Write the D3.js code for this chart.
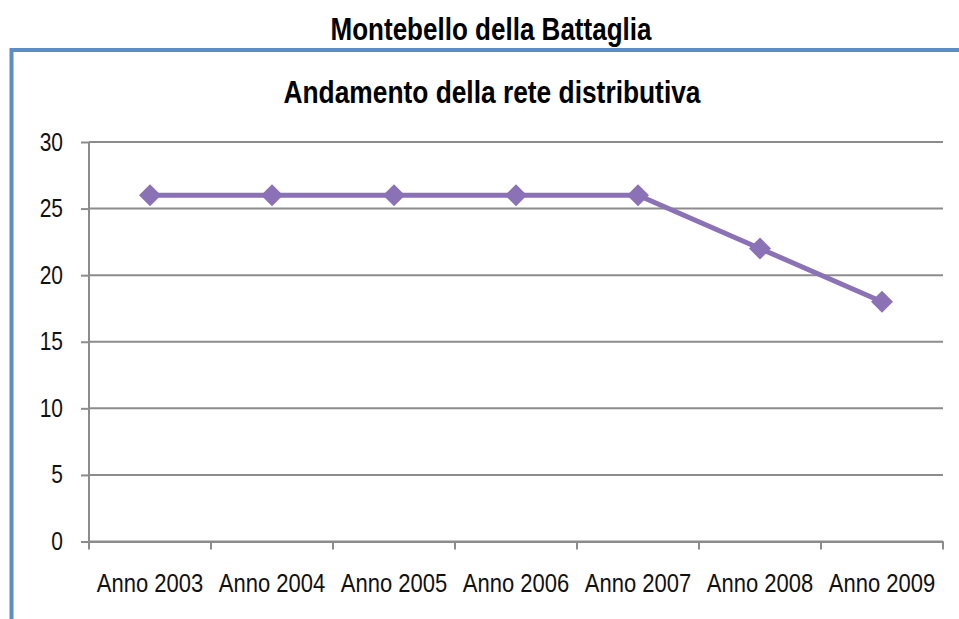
<!DOCTYPE html>
<html>
<head>
<meta charset="utf-8">
<script src="https://cdn.jsdelivr.net/npm/d3@7"></script>
<style>
  body { margin: 0; background: #fff; }
  text { font-family: "Liberation Sans", Arial, sans-serif; }
</style>
</head>
<body>
<div id="chart"></div>
<script>
var mainTitle = "Montebello della Battaglia";
var chartTitle = "Andamento della rete distributiva";
var categories = ["Anno 2003", "Anno 2004", "Anno 2005", "Anno 2006", "Anno 2007", "Anno 2008", "Anno 2009"];
var values = [26, 26, 26, 26, 26, 22, 18];
var yTicks = [0, 5, 10, 15, 20, 25, 30];

var width = 959, height = 619;
var margin = { top: 142, right: 16, bottom: 77, left: 89 };
var narrow = 0.84; // no narrow font installed, squeeze text horizontally

var svg = d3.select("#chart")
    .append("svg")
    .attr("width", width)
    .attr("height", height);

// blue frame (top and left edges only)
svg.append("path")
    .attr("d", "M11.5," + height + "V50H" + width)
    .attr("fill", "none")
    .attr("stroke", "#5b8ec8")
    .attr("stroke-width", 4);

svg.append("text")
    .attr("transform", "translate(491,40) scale(" + narrow + ",1)")
    .attr("text-anchor", "middle")
    .style("font-size", "31px")
    .style("font-weight", "bold")
    .text(mainTitle);

svg.append("text")
    .attr("transform", "translate(492,103) scale(" + 0.85 + ",1)")
    .attr("text-anchor", "middle")
    .style("font-size", "31px")
    .style("font-weight", "bold")
    .text(chartTitle);

var x = d3.scaleBand()
    .domain(categories)
    .range([margin.left, width - margin.right]);

var y = d3.scaleLinear()
    .domain([0, 30])
    .range([height - margin.bottom - 0.5, margin.top]);

// gridlines
svg.append("g")
    .selectAll("line")
    .data(yTicks)
    .enter().append("line")
    .attr("x1", margin.left)
    .attr("x2", width - margin.right)
    .attr("y1", function (d) { return y(d); })
    .attr("y2", function (d) { return y(d); })
    .attr("stroke", "#8c8c8c")
    .attr("stroke-width", 2);

var yAxis = svg.append("g")
    .attr("transform", "translate(" + margin.left + ",0)")
    .call(d3.axisLeft(y).tickValues(yTicks).tickSize(8).tickPadding(18));

var xAxis = svg.append("g")
    .attr("transform", "translate(0," + y(0) + ")")
    .call(d3.axisBottom(x).tickSize(0).tickPadding(33));

// x ticks sit on category boundaries
xAxis.selectAll(".bound")
    .data(d3.range(categories.length + 1))
    .enter().append("line")
    .attr("class", "bound")
    .attr("x1", function (i) { return margin.left + i * x.step(); })
    .attr("x2", function (i) { return margin.left + i * x.step(); })
    .attr("y1", 0)
    .attr("y2", 8);

[yAxis, xAxis].forEach(function (g) {
    g.selectAll("path.domain").attr("stroke", "#8c8c8c").attr("stroke-width", 2);
    g.selectAll("line").attr("stroke", "#8c8c8c").attr("stroke-width", 2);
    g.selectAll("text")
        .attr("fill", "#111")
        .style("font-size", "25px")
        .style("font-family", "'Liberation Sans', Arial, sans-serif");
});
yAxis.select("path.domain").attr("d", "M0," + y(0) + "V" + y(30));

// squeeze tick labels
yAxis.selectAll(".tick text")
    .attr("x", -26 / 0.84)
    .attr("transform", "scale(0.84,1)");
xAxis.selectAll(".tick text")
    .attr("transform", "scale(0.88,1)");

var line = d3.line()
    .x(function (d, i) { return x(categories[i]) + x.bandwidth() / 2; })
    .y(function (d) { return y(d); });

svg.append("path")
    .datum(values)
    .attr("d", line)
    .attr("fill", "none")
    .attr("stroke", "#8b71b5")
    .attr("stroke-width", 5);

svg.append("g")
    .selectAll("path")
    .data(values)
    .enter().append("path")
    .attr("transform", function (d, i) {
        return "translate(" + (x(categories[i]) + x.bandwidth() / 2) + "," + y(d) + ")";
    })
    .attr("d", "M0,-11L11,0L0,11L-11,0Z")
    .attr("fill", "#8b71b5");
</script>
</body>
</html>
